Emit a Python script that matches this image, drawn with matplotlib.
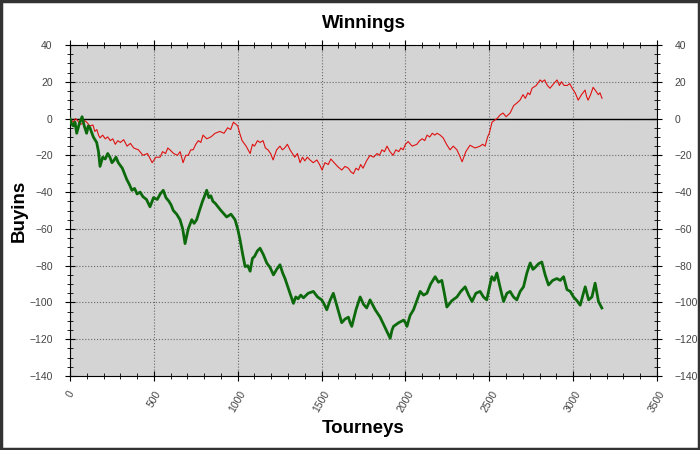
import matplotlib.pyplot as plt
import matplotlib.patches as patches
from matplotlib.ticker import MultipleLocator

plt.rcParams['font.family'] = ['Liberation Sans', 'DejaVu Sans']

# красная линия (tourneys, buyins)
red_x = [0, 10, 20, 32, 45, 58, 70, 85, 100, 118, 137, 148, 160, 170, 179, 195, 210, 225,
         240, 255, 270, 285, 300, 320, 340, 360, 380, 408, 435, 462, 490, 512, 537, 552,
         570, 583, 596, 618, 640, 657, 674, 690, 705, 720, 734, 750, 765, 780, 793, 815,
         840, 865, 894, 918, 940, 958, 974, 988, 1000, 1012, 1026, 1050, 1074, 1088, 1100,
         1118, 1133, 1151, 1165, 1180, 1196, 1211, 1232, 1252, 1266, 1280, 1296, 1312,
         1326, 1340, 1356, 1372, 1386, 1400, 1415, 1431, 1450, 1472, 1488, 1503, 1520,
         1540, 1555, 1570, 1595, 1620, 1640, 1660, 1675, 1690, 1705, 1720, 1733, 1747,
         1768, 1789, 1810, 1831, 1845, 1860, 1875, 1890, 1908, 1926, 1943, 1960, 1973,
         1986, 2000, 2016, 2040, 2068, 2085, 2100, 2115, 2129, 2145, 2160, 2175, 2188,
         2207, 2225, 2245, 2266, 2285, 2307, 2322, 2338, 2360, 2385, 2415, 2445, 2460,
         2475, 2490, 2500, 2508, 2516, 2530, 2546, 2565, 2582, 2600, 2624, 2645, 2665,
         2683, 2701, 2715, 2730, 2742, 2755, 2780, 2803, 2815, 2830, 2846, 2862, 2884,
         2904, 2918, 2930, 2946, 2964, 2980, 2994, 3012, 3030, 3050, 3071, 3080, 3089,
         3104, 3119, 3135, 3150, 3160, 3172]
red_y = [0, -1, -2, 0, -1, -3, -3, -1, -2, -4, -3.5, -7, -6, -9, -10.5, -9, -11, -10,
         -12, -11, -14, -12, -13, -11.5, -15, -13.5, -16, -17, -20, -19, -24, -21, -21, -18,
         -19, -16, -17, -19, -20, -18, -24, -20, -20, -17, -17, -14, -12, -13, -9, -11,
         -10, -8, -7, -8, -5, -6, -2, -3, -4, -8, -12, -15, -19, -14, -15,
         -12, -13, -12, -16, -17, -19, -22.5, -17, -15, -17, -16, -14, -17,
         -19, -21, -19, -24, -21, -23, -21, -22.5, -24, -22.5, -25, -28, -24,
         -25, -22, -23.5, -26, -28, -26, -27, -29, -30, -27, -28, -25, -27,
         -23, -20, -21, -19, -20, -17, -18, -15, -18, -20, -17, -18, -16,
         -17, -14, -12.5, -15, -14, -12, -11, -12, -9, -10, -8, -9, -8,
         -9, -10.5, -14, -17, -15, -17, -20, -23.5, -18, -14.5, -16, -15, -14,
         -15, -10, -8, -5, -2, -1, 0, 2, 3, 1, 3, 7, 8.5,
         10, 13, 11, 14, 13, 16.5, 18, 21, 20, 21, 18, 16.5, 19,
         21, 18, 20, 18, 18, 19, 16.5, 14, 10, 13, 15.5, 12, 10,
         13, 17, 15, 13, 14, 11]

# зелёная линия
green_x = [0, 10, 20, 30, 40, 55, 72, 85, 99, 109, 119, 139, 159, 170, 179, 195, 210, 225,
           238, 250, 260, 274, 288, 312, 338, 355, 369, 385, 400, 418, 435, 456, 477, 498,
           520, 538, 556, 572, 590, 603, 616, 636, 656, 672, 686, 705, 726, 740, 755, 772,
           790, 803, 815, 828, 840, 852, 865, 900, 934, 960, 984, 1000, 1014, 1030, 1044,
           1060, 1074, 1088, 1100, 1117, 1133, 1153, 1173, 1193, 1213, 1232, 1252, 1268,
           1282, 1308, 1332, 1346, 1360, 1376, 1392, 1420, 1451, 1476, 1501, 1516, 1531,
           1550, 1570, 1595, 1620, 1640, 1660, 1670, 1680, 1705, 1730, 1750, 1769, 1789,
           1820, 1849, 1880, 1909, 1920, 1929, 1960, 1989, 2000, 2009, 2028, 2048, 2068,
           2088, 2108, 2128, 2150, 2177, 2197, 2217, 2232, 2247, 2277, 2307, 2330, 2356,
           2377, 2397, 2420, 2445, 2465, 2485, 2500, 2515, 2530, 2545, 2565, 2585, 2605,
           2624, 2644, 2664, 2684, 2704, 2724, 2744, 2760, 2773, 2793, 2813, 2833, 2853,
           2878, 2903, 2923, 2943, 2963, 2983, 3002, 3022, 3042, 3058, 3072, 3092, 3112,
           3131, 3151, 3171]
green_y = [0, -3, -4, -2, -8, -3, 1, -4, -8, -4, -5, -10, -13, -18, -26, -21, -22, -19,
           -21, -24, -23, -21, -24, -27, -33, -36, -39, -38, -41, -40, -42.5, -44, -48, -43,
           -44, -41, -39, -43, -45, -47, -50, -52, -55, -60, -68, -60, -55, -57, -55, -50,
           -45, -42, -39, -43, -42, -45, -46, -50, -53.5, -52, -55, -60, -66, -74, -80.5,
           -80, -83, -76, -75, -72, -70.5, -74, -78.5, -81, -85, -82, -79.5, -84,
           -87, -94, -100.5, -97, -98, -96, -97.5, -95, -94, -97, -98.6, -101, -104,
           -99, -95, -103, -111, -109, -108, -111, -113, -104, -97, -101, -103, -98.6,
           -104, -108, -114, -119.5, -115, -113, -111, -109.6, -111, -113, -107, -104, -99,
           -94, -96, -95, -90, -86, -89, -88, -95, -102.5, -99, -97, -94, -91.5,
           -96, -99.5, -95, -94, -97, -98.6, -92, -86, -88, -84, -92, -99.5, -95,
           -94, -97, -98.6, -94, -91.5, -84, -78.5, -82, -81, -79, -78, -85, -90.5,
           -88, -87, -88, -86, -93, -94, -97, -99, -101.5, -96, -91.5, -98.6, -97,
           -89.5, -99.5, -103]

fig = plt.figure(figsize=(7, 4.5), dpi=100)
ax = fig.add_axes([0.1, 0.1644, 0.8386, 0.7356])
ax.set_facecolor('#d4d4d4')

ax.axhline(0, color='black', lw=1, zorder=2)
ax.plot(red_x, red_y, color='#e01010', lw=0.8, zorder=3)
ax.plot(green_x, green_y, color='#0c6a0c', lw=2.0, zorder=3)

ax.set_xlim(0, 3500)
ax.set_ylim(-140, 40)
ax.xaxis.set_major_locator(MultipleLocator(500))
ax.xaxis.set_minor_locator(MultipleLocator(100))
ax.yaxis.set_major_locator(MultipleLocator(20))
ax.yaxis.set_minor_locator(MultipleLocator(5))
ax.grid(True, which='major', color='#6a6a6a', ls=':', lw=0.8)

ax.tick_params(which='both', direction='inout', top=True, right=True, labelright=True,
               labelsize=7.5, labelcolor='#444444', color='black')
ax.tick_params(which='major', length=7)
ax.tick_params(which='minor', length=5)
ax.tick_params(axis='y', which='major', pad=9)
ax.tick_params(axis='x', which='major', pad=6)
for lab in ax.get_xticklabels():
    lab.set_rotation(60)
    lab.set_ha('center')
    lab.set_va('top')

ax.set_title('Winnings', fontsize=13.5, fontweight='bold', pad=12)
ax.set_xlabel('Tourneys', fontsize=13.5, fontweight='bold', labelpad=4)
ax.set_ylabel('Buyins', fontsize=13.5, fontweight='bold', labelpad=1)

fig.patches.append(patches.Rectangle((0.002, 0.003), 0.996, 0.994, transform=fig.transFigure,
                                     fill=False, edgecolor='#333333', lw=2.5))

fig.savefig('out.png', dpi=100)
